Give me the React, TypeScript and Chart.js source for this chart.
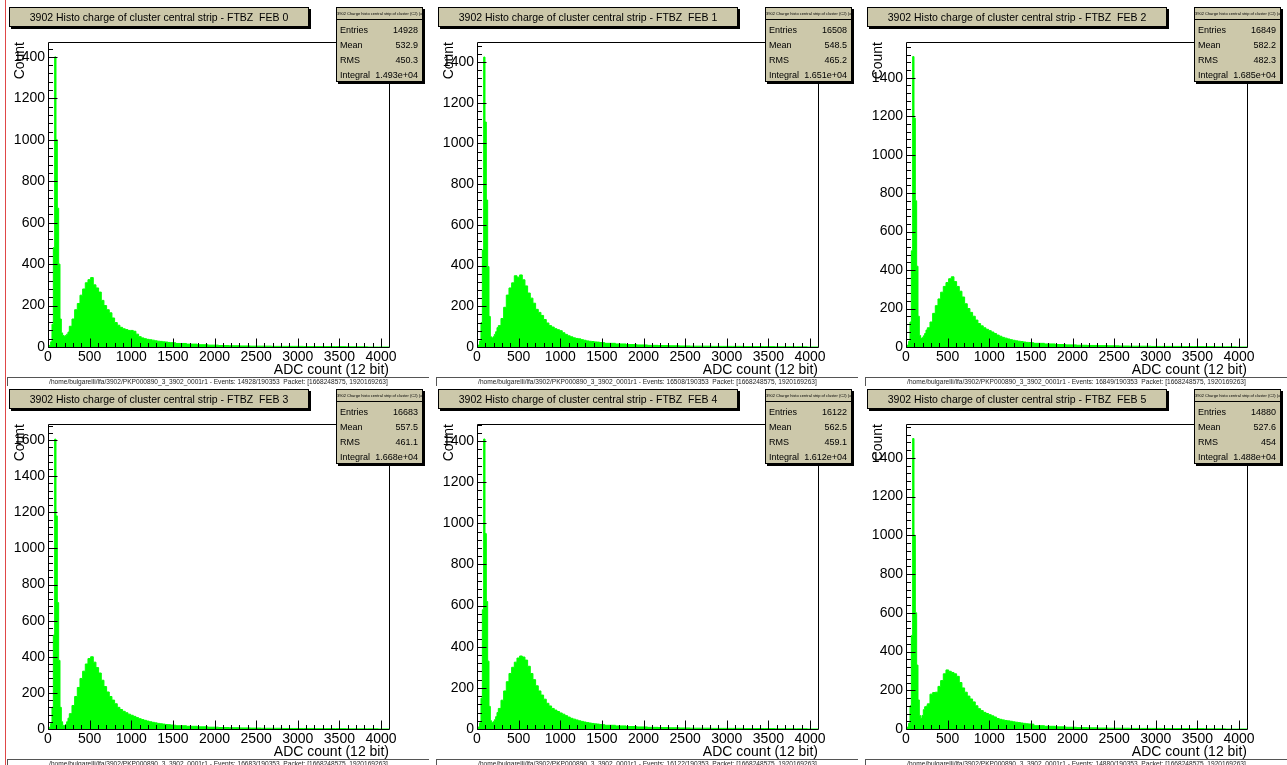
import React, { useEffect, useRef } from 'react';
import { Chart, registerables } from 'chart.js';

Chart.register(...registerables);

const FONT = '"Liberation Sans", Arial, Helvetica, sans-serif';

// Bin edges (ADC counts): 16-wide near the pedestal spike, 32-wide across the hump, 128-wide in the tail
const binEdges = [
  0, 16, 32, 48, 64, 80, 96, 112, 128, 144, 160, 176, 192, 208, 224, 240, 256,
  288, 320, 352, 384, 416, 448, 480, 512, 544, 576, 608, 640, 672, 704, 736, 768, 800, 832, 864,
  896, 928, 960, 992, 1024, 1056, 1088, 1120, 1152, 1184, 1216, 1248, 1280, 1312, 1344, 1376,
  1408, 1440, 1472, 1504, 1536,
  1664, 1792, 1920, 2048, 2176, 2304, 2432, 2560, 2688, 2816, 2944, 3072, 3200, 3328, 3456,
  3584, 3712, 3840, 3968, 4096,
];

// Counts (per 16-ADC bin) for each FEB
const countsFeb0 = [
  0, 8, 25, 110, 480, 1400, 1000, 670, 400, 135, 68, 55, 52, 56, 62, 72,
  100, 135, 180, 210, 250, 280, 310, 325, 335, 300, 285, 265, 225, 200, 180, 165, 140, 118, 105, 95,
  88, 84, 80, 80, 76, 62, 50, 44, 40, 37, 35, 33, 30, 28, 27, 25, 24, 22, 21, 20,
  17, 14, 11, 9, 7, 6, 5, 4, 4, 3, 3, 3, 2, 2, 2, 2, 1, 1, 0, 0,
];
const countsFeb1 = [
  0, 10, 30, 120, 477, 1424, 1105, 722, 395, 150, 50, 44, 50, 62, 75, 95,
  105, 140, 195, 255, 290, 315, 350, 343, 354, 330, 300, 265, 240, 215, 185, 170, 155, 135, 118, 105,
  98, 90, 85, 80, 70, 62, 55, 50, 45, 42, 40, 36, 33, 30, 28, 27, 25, 24, 22, 21,
  18, 15, 12, 10, 8, 7, 6, 5, 4, 4, 3, 3, 3, 2, 2, 2, 1, 1, 1, 0,
];
const countsFeb2 = [
  0, 10, 30, 130, 500, 1510, 1190, 760, 420, 160, 60, 45, 48, 58, 70, 88,
  100, 130, 175, 215, 250, 285, 315, 335, 355, 365, 340, 315, 290, 260, 225, 200, 180, 160, 140, 122,
  110, 100, 92, 85, 78, 70, 62, 56, 50, 46, 42, 38, 35, 32, 30, 28, 26, 24, 23, 22,
  19, 16, 13, 11, 9, 8, 7, 6, 5, 4, 4, 3, 3, 3, 2, 2, 2, 1, 1, 0,
];
const countsFeb3 = [
  0, 10, 30, 120, 520, 1605, 1180, 700, 380, 120, 40, 20, 18, 25, 40, 60,
  85, 130, 180, 230, 280, 320, 360, 390, 400, 370, 340, 310, 270, 235, 205, 180, 160, 140, 120, 108,
  98, 90, 82, 76, 70, 63, 57, 52, 48, 44, 40, 37, 34, 31, 29, 27, 25, 24, 22, 21,
  18, 15, 12, 10, 8, 7, 6, 5, 4, 4, 3, 3, 3, 2, 2, 2, 1, 1, 1, 0,
];
const countsFeb4 = [
  0, 10, 30, 150, 580, 1410, 950, 620, 330, 110, 40, 30, 35, 45, 60, 80,
  100, 140, 185, 230, 270, 300, 325, 345, 355, 350, 335, 305, 270, 240, 210, 185, 165, 145, 125, 112,
  100, 92, 85, 78, 72, 65, 58, 52, 48, 44, 40, 37, 34, 31, 29, 27, 25, 24, 22, 21,
  18, 15, 12, 10, 8, 7, 6, 5, 4, 4, 3, 3, 3, 2, 2, 2, 1, 1, 1, 0,
];
const countsFeb5 = [
  0, 10, 30, 120, 483, 1500, 1000, 600, 330, 150, 70, 55, 70, 100, 115, 118,
  130, 180, 188, 190, 220, 250, 285, 305, 298, 292, 285, 272, 240, 212, 190, 170, 155, 140, 120, 105,
  95, 86, 80, 74, 68, 62, 54, 50, 47, 44, 42, 40, 37, 35, 33, 31, 29, 27, 26, 25,
  17, 14, 11, 9, 7, 6, 5, 4, 4, 3, 3, 3, 2, 2, 2, 2, 1, 1, 0, 0,
];

const allCounts = [countsFeb0, countsFeb1, countsFeb2, countsFeb3, countsFeb4, countsFeb5];
const febLabels = ['FEB 0', 'FEB 1', 'FEB 2', 'FEB 3', 'FEB 4', 'FEB 5'];
const yMaxValues = [1472, 1498, 1586, 1689, 1483, 1575];
const statEntries = ['14928', '16508', '16849', '16683', '16122', '14880'];
const statMeans = ['532.9', '548.5', '582.2', '557.5', '562.5', '527.6'];
const statRms = ['450.3', '465.2', '482.3', '461.1', '459.1', '454'];
const statIntegrals = ['1.493e+04', '1.651e+04', '1.685e+04', '1.668e+04', '1.612e+04', '1.488e+04'];

// Tick labels
const xTickValues = [0, 500, 1000, 1500, 2000, 2500, 3000, 3500, 4000];
const yTickValues = [0, 200, 400, 600, 800, 1000, 1200, 1400, 1600];

const xTitle = 'ADC count (12 bit)';
const yTitle = 'Count';
const statsHeader = '3902 Charge histo central strip of cluster (C2) (all)';

const PANEL_W = 429;
const PANEL_H = 382;

const rootAxesPlugin = {
  id: 'rootAxes',
  afterDatasetsDraw(chart: any) {
    const { ctx, chartArea: a, scales } = chart;
    const xs = scales.x;
    const ys = scales.y;
    ctx.save();
    ctx.strokeStyle = '#000';
    ctx.lineWidth = 1;
    const l = Math.round(a.left) + 0.5;
    const t = Math.round(a.top) + 0.5;
    const r = Math.round(a.right) + 0.5;
    const b = Math.round(a.bottom) + 0.5;
    ctx.beginPath();
    ctx.moveTo(l, t);
    ctx.lineTo(r, t);
    ctx.lineTo(r, b);
    ctx.lineTo(l, b);
    ctx.closePath();
    ctx.stroke();
    ctx.beginPath();
    for (let v = 0; v <= xs.max; v += 100) {
      const px = Math.round(xs.getPixelForValue(v)) + 0.5;
      const len = v % 500 === 0 ? 9 : 4.5;
      ctx.moveTo(px, b);
      ctx.lineTo(px, b - len);
    }
    for (let v = 0; v <= ys.max; v += 40) {
      const py = Math.round(ys.getPixelForValue(v)) + 0.5;
      const len = v % 200 === 0 ? 9 : 4.5;
      ctx.moveTo(l, py);
      ctx.lineTo(l + len, py);
    }
    ctx.stroke();
    ctx.restore();
  },
};

function Panel({ idx }: { idx: number }) {
  const ref = useRef<HTMLCanvasElement | null>(null);
  const col = idx % 3;
  const row = Math.floor(idx / 3);

  useEffect(() => {
    if (!ref.current) return;
    const counts = allCounts[idx];
    const points = counts.map((c, i) => ({ x: binEdges[i], y: c }));
    points.push({ x: binEdges[binEdges.length - 1], y: counts[counts.length - 1] });
    const yMax = yMaxValues[idx];
    const chart = new Chart(ref.current, {
      type: 'line',
      data: {
        datasets: [
          {
            data: points,
            stepped: 'before',
            fill: 'origin',
            backgroundColor: '#00ff00',
            borderColor: '#00ff00',
            borderWidth: 1,
            pointRadius: 0,
            tension: 0,
          } as any,
        ],
      },
      options: {
        animation: false,
        responsive: false,
        devicePixelRatio: 1,
        layout: { padding: { left: 8, top: 42, right: 40, bottom: 0 } },
        plugins: {
          legend: { display: false },
          tooltip: { enabled: false },
          title: { display: false },
        },
        scales: {
          x: {
            type: 'linear',
            min: 0,
            max: 4096,
            afterFit: (s: any) => {
              s.height = 35;
            },
            afterBuildTicks: (s: any) => {
              s.ticks = xTickValues.map((v) => ({ value: v }));
            },
            grid: { display: false, drawTicks: false },
            border: { display: false },
            ticks: {
              autoSkip: false,
              maxRotation: 0,
              padding: 2,
              color: '#000',
              font: { family: FONT, size: 14 },
              callback: (v: any) => String(v),
            },
            title: {
              display: true,
              text: xTitle,
              align: 'end',
              color: '#000',
              font: { family: FONT, size: 14 },
              padding: { top: 0, bottom: 3 },
            },
          },
          y: {
            type: 'linear',
            min: 0,
            max: yMax,
            afterFit: (s: any) => {
              s.width = 40;
            },
            afterBuildTicks: (s: any) => {
              s.ticks = yTickValues.filter((v) => v <= yMax).map((v) => ({ value: v }));
            },
            grid: { display: false, drawTicks: false },
            border: { display: false },
            ticks: {
              autoSkip: false,
              padding: 3,
              color: '#000',
              font: { family: FONT, size: 14 },
              callback: (v: any) => String(v),
            },
            title: {
              display: true,
              text: yTitle,
              align: 'end',
              color: '#000',
              font: { family: FONT, size: 14 },
              padding: { top: 4, bottom: 0 },
            },
          },
        },
      } as any,
      plugins: [rootAxesPlugin],
    });
    return () => chart.destroy();
  }, [idx]);

  const statRows = [
    ['Entries', statEntries[idx]],
    ['Mean', statMeans[idx]],
    ['RMS', statRms[idx]],
    ['Integral', statIntegrals[idx]],
  ];
  const footer = `/home/bulgarelli/lfa/3902/PKP000890_3_3902_0001r1 - Events: ${statEntries[idx]}/190353  Packet: [1668248575, 1920169263]`;

  return (
    <div
      style={{
        position: 'absolute',
        left: col * PANEL_W,
        top: row * PANEL_H,
        width: PANEL_W,
        height: PANEL_H,
      }}
    >
      <canvas ref={ref} width={PANEL_W} height={PANEL_H} style={{ position: 'absolute', left: 0, top: 0 }} />
      <div
        style={{
          position: 'absolute',
          left: 9,
          top: 7,
          width: 300,
          height: 20,
          boxSizing: 'border-box',
          background: '#ccc8aa',
          border: '1px solid #000',
          boxShadow: '2px 2px 0 #000',
          fontFamily: FONT,
          fontSize: 10.5,
          color: '#000',
          display: 'flex',
          alignItems: 'center',
          justifyContent: 'center',
          whiteSpace: 'pre',
        }}
      >
        {`3902 Histo charge of cluster central strip - FTBZ  ${febLabels[idx]}`}
      </div>
      <div
        style={{
          position: 'absolute',
          left: 336,
          top: 7,
          width: 87,
          height: 75,
          boxSizing: 'border-box',
          background: '#ccc8aa',
          border: '1px solid #000',
          boxShadow: '2px 2px 0 #000',
          fontFamily: FONT,
          color: '#000',
        }}
      >
        <div
          style={{
            position: 'absolute',
            left: 0,
            top: 0,
            width: '100%',
            height: 11,
            borderBottom: '1px solid #000',
            fontSize: 4,
            lineHeight: '11px',
            textAlign: 'center',
            whiteSpace: 'nowrap',
            overflow: 'hidden',
          }}
        >
          {statsHeader}
        </div>
        {statRows.map((r, i) => (
          <div
            key={r[0]}
            style={{
              position: 'absolute',
              left: 3,
              right: 4,
              top: 15 + i * 15,
              height: 15,
              lineHeight: '15px',
              fontSize: 9,
              display: 'flex',
              justifyContent: 'space-between',
            }}
          >
            <span>{r[0]}</span>
            <span>{r[1]}</span>
          </div>
        ))}
      </div>
      <div
        style={{
          position: 'absolute',
          left: 7,
          top: 377,
          width: PANEL_W - 7,
          height: 9,
          boxSizing: 'border-box',
          borderTop: '1px solid #555',
          borderLeft: '1px solid #555',
          fontFamily: FONT,
          fontSize: 6.6,
          lineHeight: '7px',
          textAlign: 'center',
          whiteSpace: 'pre',
          color: '#222',
          overflow: 'visible',
        }}
      >
        {footer}
      </div>
    </div>
  );
}

export default function App() {
  return (
    <div
      style={{
        position: 'absolute',
        left: 0,
        top: 0,
        width: 1287,
        height: 765,
        background: '#fff',
        overflow: 'hidden',
      }}
    >
      {[0, 1, 2, 3, 4, 5].map((i) => (
        <Panel key={i} idx={i} />
      ))}
      <div style={{ position: 'absolute', left: 5, top: 0, width: 1, height: 765, background: '#e04848' }} />
    </div>
  );
}
